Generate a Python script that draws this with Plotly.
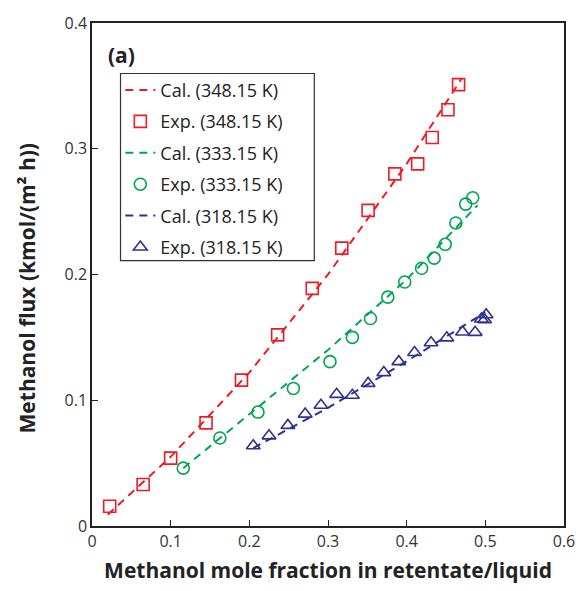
import plotly.graph_objects as go

# Experimental data
x_exp_348 = [0.0225, 0.065, 0.100, 0.145, 0.190, 0.236, 0.280, 0.3175, 0.351, 0.385, 0.414, 0.4325, 0.4525, 0.466]
y_exp_348 = [0.0157, 0.033, 0.054, 0.082, 0.116, 0.152, 0.189, 0.221, 0.251, 0.280, 0.288, 0.309, 0.331, 0.351]

x_exp_333 = [0.116, 0.1625, 0.211, 0.256, 0.3025, 0.331, 0.354, 0.376, 0.3975, 0.419, 0.435, 0.449, 0.4625, 0.475, 0.484]
y_exp_333 = [0.046, 0.070, 0.0906, 0.1094, 0.1307, 0.150, 0.165, 0.182, 0.194, 0.205, 0.213, 0.224, 0.241, 0.256, 0.261]

x_exp_318 = [0.205, 0.225, 0.249, 0.271, 0.291, 0.311, 0.331, 0.351, 0.371, 0.390, 0.410, 0.431, 0.451, 0.471, 0.487, 0.495, 0.499, 0.501]
y_exp_318 = [0.0638, 0.0717, 0.080, 0.089, 0.096, 0.1047, 0.104, 0.1134, 0.122, 0.1307, 0.138, 0.1457, 0.1496, 0.1543, 0.154, 0.1646, 0.164, 0.168]

# Calculated curves
x_cal_348 = [0.02, 0.10, 0.20, 0.30, 0.40, 0.47]
y_cal_348 = [0.009, 0.055, 0.122, 0.200, 0.288, 0.356]

x_cal_333 = [0.116, 0.20, 0.30, 0.40, 0.49]
y_cal_333 = [0.046, 0.089, 0.140, 0.196, 0.255]

x_cal_318 = [0.205, 0.30, 0.40, 0.50]
y_cal_318 = [0.062, 0.094, 0.131, 0.170]

x_ticks = [0, 0.1, 0.2, 0.3, 0.4, 0.5, 0.6]
x_tick_labels = ["0", "0.1", "0.2", "0.3", "0.4", "0.5", "0.6"]
y_ticks = [0, 0.1, 0.2, 0.3, 0.4]
y_tick_labels = ["0", "0.1", "0.2", "0.3", "0.4"]

RED = "#ED1C24"
GREEN = "#00A651"
BLUE = "#2E3192"
FONT = "Open Sans"

fig = go.Figure()

def cal(x, y, color, name, grp):
    fig.add_trace(go.Scatter(x=x, y=y, mode="lines", name=name, legendgroup=grp,
                             line=dict(color=color, width=2, dash="8px,6px")))

def exp(x, y, color, name, symbol, size, grp):
    fig.add_trace(go.Scatter(x=x, y=y, mode="markers", name=name, legendgroup=grp,
                             marker=dict(symbol=symbol, size=size, color=color,
                                         line=dict(color=color, width=1.6))))

cal(x_cal_348, y_cal_348, RED, "Cal. (348.15 K)", "g1")
exp(x_exp_348, y_exp_348, RED, "Exp. (348.15 K)", "square-open", 12, "g2")
cal(x_cal_333, y_cal_333, GREEN, "Cal. (333.15 K)", "g3")
exp(x_exp_333, y_exp_333, GREEN, "Exp. (333.15 K)", "circle-open", 12, "g4")
cal(x_cal_318, y_cal_318, BLUE, "Cal. (318.15 K)", "g5")
exp(x_exp_318, y_exp_318, BLUE, "Exp. (318.15 K)", "triangle-up-open", 12, "g6")

fig.update_layout(
    width=587, height=591,
    margin=dict(l=92, r=15, t=20, b=63),
    paper_bgcolor="white", plot_bgcolor="white",
    font=dict(family=FONT, color="#222222", size=16),
    showlegend=True,
    legend=dict(x=0.06, y=0.903, xanchor="left", yanchor="top",
                borderwidth=0, bordercolor="rgba(0,0,0,0)", bgcolor="rgba(0,0,0,0)",
                font=dict(family=FONT, size=18, color="#222222"),
                traceorder="grouped", tracegroupgap=5,
                itemwidth=30),
    shapes=[dict(type="rect", xref="paper", yref="paper",
                 x0=0.0604, x1=0.471, y0=0.5276, y1=0.8996,
                 line=dict(color="#333333", width=1.2), fillcolor="white",
                 layer="above")],
    xaxis=dict(range=[0, 0.6], tickvals=x_ticks, ticktext=x_tick_labels,
               ticks="inside", ticklen=6, tickcolor="#222222",
               showline=True, linecolor="#222222", linewidth=1.5, mirror=True,
               showgrid=False, zeroline=False,
               tickfont=dict(family=FONT, size=16, color="#333333"),
               title=dict(text="<b>Methanol mole fraction in retentate/liquid</b>",
                          font=dict(family=FONT, size=21, color="#222222"), standoff=12)),
    yaxis=dict(range=[0, 0.4], tickvals=y_ticks, ticktext=y_tick_labels,
               ticks="inside", ticklen=6, tickcolor="#222222",
               showline=True, linecolor="#222222", linewidth=1.5, mirror=True,
               showgrid=False, zeroline=False,
               tickfont=dict(family=FONT, size=16, color="#333333")),
    annotations=[
        dict(text="<b>(a)</b>", x=0.03, y=0.968, xref="paper", yref="paper",
             xanchor="left", yanchor="top", showarrow=False,
             font=dict(family=FONT, size=21, color="#222222")),
        dict(text="<b>Methanol flux (kmol/(m² h))</b>", textangle=-90,
             x=-0.138, y=0.472, xref="paper", yref="paper",
             xanchor="center", yanchor="middle", showarrow=False,
             font=dict(family=FONT, size=21, color="#222222")),
    ],
)

fig.write_html("out.html")
